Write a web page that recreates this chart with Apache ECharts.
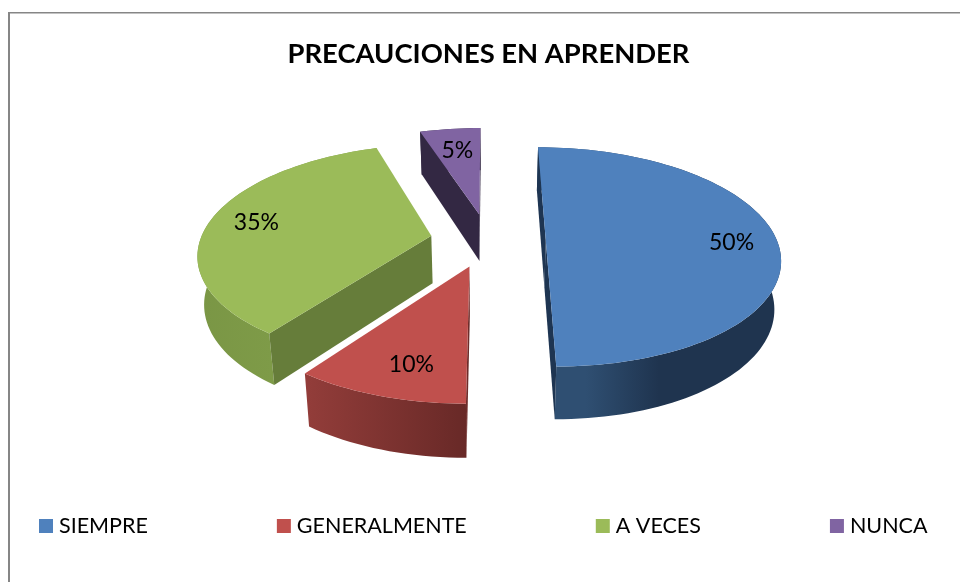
<!DOCTYPE html>
<html><head><meta charset="utf-8">
<style>html,body{margin:0;padding:0;background:#fff}#c{width:960px;height:582px}</style>
<script src="https://cdn.jsdelivr.net/npm/echarts@6/dist/echarts.min.js"></script>
</head><body><div id="c"></div>
<script>
const titleText = 'PRECAUCIONES EN APRENDER';
const categories = ['SIEMPRE', 'GENERALMENTE', 'A VECES', 'NUNCA'];
const values = [50, 10, 35, 5];

// Styles and projection
const topColors = ['#4F81BD', '#C0504D', '#9BBB59', '#8064A2'];
const faceColors = ['#1E3552', '#6E2C2A', '#667D3A', '#332843'];
const wallStops = [
  [[0, '#2F4F72'], [0.2, '#2F4F72'], [0.5, '#1F344F'], [1, '#1F344F']],
  [[0, '#933D3A'], [1, '#682927']],
  [[0, '#7A9645'], [1, '#84A24C']],
  [[0, '#3A2E4C'], [1, '#3A2E4C']]
];
const labelNudge = [[1, 3], [12, -2], [2, 0], [2, 6]];
const P = {cx: 488, cy: 240, A: 231, B: 107, k: 0.154, e: 0.25, d0: 47.5, dk: 0.1, shrink: 0.977, labelR: 0.8};
const total = values.reduce((a, b) => a + b, 0);

function project(X, V, lower) {
  const s = 1 / (1 - P.k * V);
  let x = P.cx + P.A * X * s, y = P.cy + P.B * V * s;
  if (lower) {
    x = P.cx + (x - P.cx) * P.shrink;
    y += P.d0 / (1 - P.dk * V);
  }
  return [x, y];
}
function area(q) {
  let a = 0;
  for (let i = 0; i < q.length; i++) {
    const p = q[i], n = q[(i + 1) % q.length];
    a += p[0] * n[1] - n[0] * p[1];
  }
  return a;
}
function renderSlice(params, api) {
  const i = params.seriesIndex;
  const v = api.value(0);
  let before = 0;
  for (let j = 0; j < i; j++) before += values[j];
  const a0 = before / total * 2 * Math.PI, a1 = (before + v) / total * 2 * Math.PI, mid = (a0 + a1) / 2;
  const ax = P.e * Math.sin(mid), av = -P.e * Math.cos(mid);
  const steps = Math.max(8, Math.round(v * 2));
  const plane = [];
  for (let t = 0; t <= steps; t++) {
    const a = a0 + (a1 - a0) * t / steps;
    plane.push([ax + Math.sin(a), av - Math.cos(a)]);
  }
  const upper = plane.map(p => project(p[0], p[1], false));
  const lower = plane.map(p => project(p[0], p[1], true));
  const apexU = project(ax, av, false), apexL = project(ax, av, true);
  const children = [];
  children.push({
    type: 'polygon',
    shape: {points: upper.concat(lower.slice().reverse())},
    style: {fill: new echarts.graphic.LinearGradient(0, 0, 1, 0, wallStops[i].map(s => ({offset: s[0], color: s[1]})))}
  });
  const startFace = [apexU, upper[0], lower[0], apexL];
  const endFace = [apexU, upper[steps], lower[steps], apexL];
  if (area(startFace) < 0) children.push({type: 'polygon', shape: {points: startFace}, style: {fill: faceColors[i]}});
  if (area(endFace) > 0) children.push({type: 'polygon', shape: {points: endFace}, style: {fill: faceColors[i]}});
  children.push({type: 'polygon', shape: {points: [apexU].concat(upper)}, style: {fill: topColors[i]}});
  const lp = project(ax + P.labelR * Math.sin(mid), av - P.labelR * Math.cos(mid), false);
  children.push({
    type: 'text',
    style: {
      x: lp[0] + labelNudge[i][0], y: lp[1] + labelNudge[i][1],
      text: Math.round(v / total * 100) + '%',
      align: 'center', verticalAlign: 'middle',
      font: '23px Lato', fill: '#000'
    }
  });
  return {type: 'group', children};
}

const chart = echarts.init(document.getElementById('c'), null, {renderer: 'canvas'});
chart.setOption({
  animation: false,
  backgroundColor: '#fff',
  title: {
    text: titleText, left: 483.5, top: 36, textAlign: 'center',
    textStyle: {fontFamily: 'Lato', fontWeight: 'bold', fontSize: 27.4, color: '#000'}
  },
  legend: {
    left: 34, top: 510, icon: 'rect', itemWidth: 14, itemHeight: 14, itemGap: 129,
    data: categories,
    textStyle: {fontFamily: 'Lato', fontSize: 21.5, color: '#000', padding: [0, 0, 0, 1]},
    selectedMode: false
  },
  graphic: [
    {type: 'rect', shape: {x: 8, y: 12, width: 2, height: 570}, style: {fill: '#868686'}, silent: true},
    {type: 'rect', shape: {x: 8, y: 12, width: 952, height: 1.5}, style: {fill: '#868686'}, silent: true}
  ],
  series: categories.map((name, i) => ({
    type: 'custom',
    name,
    coordinateSystem: 'none',
    silent: true,
    itemStyle: {color: topColors[i]},
    renderItem: renderSlice,
    data: [[values[i]]]
  }))
});
</script></body></html>
